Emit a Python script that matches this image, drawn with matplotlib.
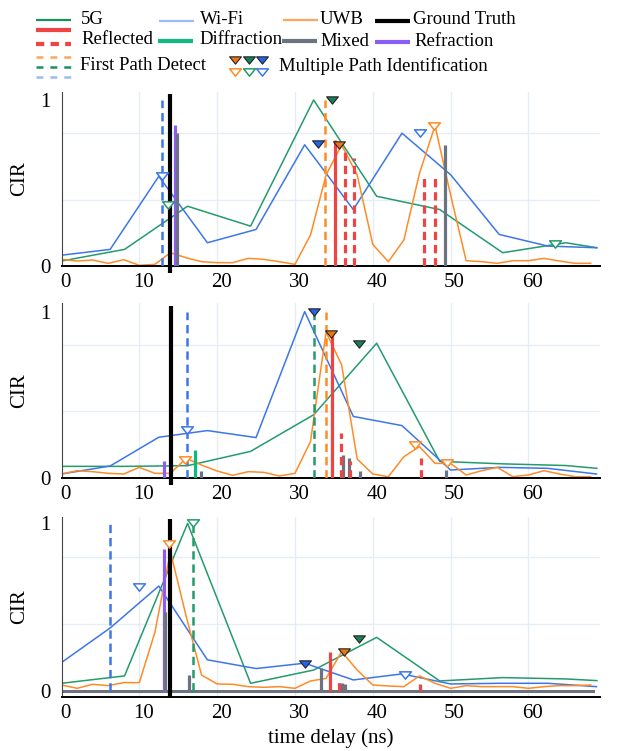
import matplotlib
matplotlib.use("Agg")
import matplotlib.pyplot as plt
from matplotlib.path import Path
from matplotlib.transforms import ScaledTranslation

plt.rcParams['font.family'] = ['Liberation Serif', 'DejaVu Serif']
plt.rcParams['lines.scale_dashes'] = False

# sample times (ns) of each radio
g5_t = [0, 8.1, 16.2, 24.3, 32.4, 40.5, 48.6, 56.7, 64.8, 68.8]
wifi_t = [0, 6.25, 12.5, 18.75, 25, 31.25, 37.5, 43.75, 50, 56.25, 62.5, 68.75]
uwb_t = [0, 2, 4, 6, 8, 10, 12, 14, 16, 18, 20, 22, 24, 26, 28, 30, 32, 34,
         36, 38, 40, 42, 44, 46, 48, 50, 52, 54, 56, 58, 60, 62, 64, 66, 68]

# ---- panel 1 ----
g5_1 = [0.03, 0.10, 0.36, 0.24, 1.0, 0.42, 0.34, 0.08, 0.14, 0.11]
wifi_1 = [0.065, 0.10, 0.54, 0.14, 0.22, 0.73, 0.34, 0.80, 0.55, 0.19, 0.12, 0.11]
uwb_1 = [0.040, 0.030, 0.036, 0.016, 0.038, 0.004, 0.010, 0.080, 0.050, 0.026,
         0.020, 0.020, 0.046, 0.040, 0.026, 0.010, 0.187, 0.548, 0.729, 0.548,
         0.130, 0.026, 0.157, 0.558, 0.845, 0.428, 0.032, 0.026, 0.016, 0.032,
         0.032, 0.046, 0.030, 0.016, 0.016]
refl_solid_1 = ([35.2], [0.76])
refl_dash_1 = ([36.4, 37.6, 46.6, 48.0], [0.70, 0.65, 0.55, 0.54])
diff_1 = ([], [])
refr_1 = ([14.6], [0.85])
mixed_1 = ([14.8, 49.3], [0.80, 0.73])
first_path_1 = {"wifi": 12.9, "uwb": 33.9}
mpi_filled_1 = {"uwb": ([35.7], [0.73]), "5g": ([34.8], [1.0]), "wifi": ([33.0], [0.733])}
mpi_hollow_1 = {"uwb": ([47.9], [0.845]), "5g": ([13.7, 63.4], [0.37, 0.13]),
                "wifi": ([12.9, 46.1], [0.54, 0.80])}
gt_1 = 13.9

# ---- panel 2 ----
g5_2 = [0.07, 0.07, 0.074, 0.16, 0.38, 0.81, 0.10, 0.085, 0.075, 0.058]
wifi_2 = [0.024, 0.072, 0.245, 0.285, 0.243, 1.0, 0.37, 0.315, 0.048, 0.064, 0.058, 0.024]
uwb_2 = [0.024, 0.044, 0.038, 0.028, 0.024, 0.064, 0.028, 0.028, 0.118, 0.078,
         0.042, 0.016, 0.038, 0.034, 0.012, 0.028, 0.219, 0.877, 0.68, 0.114,
         0.024, 0.008, 0.128, 0.189, 0.088, 0.088, 0.018, 0.044, 0.064, 0.008,
         0.018, 0.044, 0.024, 0.008, 0.008]
refl_solid_2 = ([34.7], [0.86])
refl_dash_2 = ([35.9, 37.1, 46.2], [0.27, 0.10, 0.12])
diff_2 = ([17.1], [0.17])
refr_2 = ([13.2], [0.10])
mixed_2 = ([17.9, 36.2, 36.9, 38.3, 49.4], [0.04, 0.14, 0.12, 0.042, 0.048])
first_path_2 = {"wifi": 16.1, "5g": 32.5, "uwb": 34.0}
mpi_filled_2 = {"wifi": ([32.4], [1.0]), "uwb": ([34.6], [0.865]), "5g": ([38.2], [0.805])}
mpi_hollow_2 = {"wifi": ([16.1], [0.29]), "uwb": ([15.9, 45.4, 49.6], [0.11, 0.20, 0.09])}
gt_2 = 14.1

# ---- panel 3 ----
g5_3 = [0.046, 0.09, 1.0, 0.046, 0.125, 0.32, 0.06, 0.08, 0.072, 0.062]
wifi_3 = [0.17, 0.376, 0.626, 0.186, 0.134, 0.166, 0.066, 0.102, 0.042, 0.046, 0.046, 0.026]
uwb_3 = [0.036, 0.016, 0.040, 0.032, 0.050, 0.050, 0.35, 0.83, 0.45, 0.095,
         0.042, 0.040, 0.026, 0.022, 0.026, 0.016, 0.060, 0.075, 0.235, 0.125,
         0.036, 0.030, 0.026, 0.090, 0.046, 0.016, 0.032, 0.026, 0.026, 0.026,
         0.016, 0.026, 0.032, 0.032, 0.036]
refl_solid_3 = ([34.5], [0.23])
refl_dash_3 = ([35.7, 46.1], [0.066, 0.042])
diff_3 = ([], [])
refr_3 = ([13.2], [0.85])
mixed_3 = ([13.35, 16.4, 33.3, 36.0, 36.4], [0.47, 0.095, 0.135, 0.05, 0.04])
mixed_base_3 = [0, 68.3]
first_path_3 = {"wifi": 6.2, "5g": 16.9}
mpi_filled_3 = {"wifi": ([31.3], [0.16]), "uwb": ([36.3], [0.23]), "5g": ([38.2], [0.31])}
mpi_hollow_3 = {"wifi": ([9.9, 44.2], [0.62, 0.096]), "uwb": ([13.8], [0.88]),
                "5g": ([16.9], [1.0])}
gt_3 = 13.9

# colours
c_line = {"5g": "#239b6c", "wifi": "#3d76e8", "uwb": "#ff8b26"}
c_fill = {"5g": "#17805a", "wifi": "#2563eb", "uwb": "#ec7612"}
c_legend = {"5g": "#1b8f61", "wifi": "#9cbaf4", "uwb": "#fda65e"}
c_refl = "#ef4444"
c_diff = "#10b981"
c_mixed = "#6b7280"
c_refr = "#8b5cf6"
grid_c = "#e6edf7"

tri = Path([(-1, 0.62), (1, 0.62), (0, -0.62), (-1, 0.62)], closed=True)
dash = (0, (6, 3.5))

fig = plt.figure(figsize=(6.24, 7.51), dpi=100)
W, H = 624, 751


def draw_panel(ax, g5, wifi, uwb, refl_s, refl_d, diff, refr, mixed, fpd,
               mpi_f, mpi_h, gt, ylim, base=None):
    ax.set_xlim(0, 69.2)
    ax.set_ylim(*ylim)
    for gx in [10, 20, 30, 40, 50, 60]:
        ax.axvline(gx, color=grid_c, lw=1, zorder=0)
    for gy in [0.4, 0.8]:
        ax.axhline(gy, color=grid_c, lw=1, zorder=0)

    ax.plot(g5_t, g5, color=c_line["5g"], lw=1.1, zorder=2)
    ax.plot(wifi_t, wifi, color=c_line["wifi"], lw=1.1, zorder=2)
    ax.plot(uwb_t, uwb, color=c_line["uwb"], lw=1.1, zorder=2)
    if base is not None:
        ax.plot(base, [0, 0], color=c_mixed, lw=2.2, zorder=2)

    ax.vlines(refr[0], 0, refr[1], color=c_refr, lw=2.3, zorder=3)
    ax.vlines(mixed[0], 0, mixed[1], color=c_mixed, lw=2.3, zorder=3)
    ax.vlines(diff[0], 0, diff[1], color=c_diff, lw=2.3, zorder=3)
    ax.vlines(refl_s[0], 0, refl_s[1], color=c_refl, lw=2.3, zorder=3)
    ax.vlines(refl_d[0], 0, refl_d[1], color=c_refl, lw=2.3, linestyles=[dash], zorder=3)
    for k, t in fpd.items():
        ax.vlines(t, 0, 1.0, color=c_line[k], lw=1.8, linestyles=[dash], zorder=3)

    ax.vlines(gt, -0.04, ylim[1] - 0.015, color="black", lw=3, zorder=4, clip_on=False)

    for k, (xs, ys) in mpi_f.items():
        ax.plot(xs, ys, ls="none", marker=tri, ms=8.5, mfc=c_fill[k], mec="#222222",
                mew=0.8, zorder=5)
    for k, (xs, ys) in mpi_h.items():
        ax.plot(xs, ys, ls="none", marker=tri, ms=8.5, mfc="white", mec=c_line[k],
                mew=1.1, zorder=5)

    for s in ["top", "right"]:
        ax.spines[s].set_visible(False)
    ax.spines["left"].set_color("#444444")
    ax.spines["bottom"].set_color("black")
    ax.spines["bottom"].set_linewidth(1.4)
    ax.set_xticks([0, 10, 20, 30, 40, 50, 60])
    ax.set_yticks([0, 1])
    ax.set_yticklabels(["0", "1"])
    ax.tick_params(length=0, labelsize=15, pad=5)
    ax.tick_params(axis="y", pad=8)
    off = ScaledTranslation(4 / 100, 0, fig.dpi_scale_trans)
    for lab in ax.get_xticklabels():
        lab.set_transform(lab.get_transform() + off)
    ax.set_ylabel("CIR", fontsize=15, labelpad=8)


left = 61.5 / W
width = 538.5 / W
ax1 = fig.add_axes([left, (H - 266) / H, width, 174 / H])
ax2 = fig.add_axes([left, (H - 478) / H, width, 174.7 / H])
ax3 = fig.add_axes([left, (H - 696.7) / H, width, 180 / H])

draw_panel(ax1, g5_1, wifi_1, uwb_1, refl_solid_1, refl_dash_1, diff_1, refr_1, mixed_1,
           first_path_1, mpi_filled_1, mpi_hollow_1, gt_1, (0, 1.048))
draw_panel(ax2, g5_2, wifi_2, uwb_2, refl_solid_2, refl_dash_2, diff_2, refr_2, mixed_2,
           first_path_2, mpi_filled_2, mpi_hollow_2, gt_2, (0, 1.05))
draw_panel(ax3, g5_3, wifi_3, uwb_3, refl_solid_3, refl_dash_3, diff_3, refr_3, mixed_3,
           first_path_3, mpi_filled_3, mpi_hollow_3, gt_3, (-0.034, 1.04), base=mixed_base_3)
ax3.set_xlabel("time delay (ns)", fontsize=15, labelpad=4)

# legend drawn in pixel space
lg = fig.add_axes([0, 0, 1, 1])
lg.set_xlim(0, W)
lg.set_ylim(H, 0)
lg.axis("off")
lg.patch.set_alpha(0)
fs = 13.5


def leg_line(x0, y, color, lw, ls="-"):
    lg.plot([x0, x0 + 35], [y, y], color=color, lw=lw, ls=ls, solid_capstyle="butt")


def leg_text(x, y, s):
    lg.text(x, y, s, fontsize=fs, va="center", ha="left")


leg_line(36, 20, c_legend["5g"], 1.6)
leg_text(81, 19, "5G")
leg_line(159, 21, c_legend["wifi"], 1.6)
leg_text(200, 20, "Wi-Fi")
leg_line(283, 20, c_legend["uwb"], 1.6)
leg_text(320, 20, "UWB")
leg_line(375, 21, "black", 3)
leg_text(413, 20, "Ground Truth")

leg_line(36, 30, c_refl, 3)
leg_line(36, 44, c_refl, 3, ls=(0, (6, 4.5)))
leg_text(81, 39, "Reflected")
leg_line(158, 41, c_diff, 3)
leg_text(199, 40, "Diffraction")
leg_line(282, 41, c_mixed, 3)
leg_text(320, 41, "Mixed")
leg_line(375, 42, c_refr, 3)
leg_text(414, 42, "Refraction")

leg_line(36, 57, c_legend["uwb"], 1.8, ls=(0, (5, 5)))
leg_line(36, 67, c_legend["5g"], 1.8, ls=(0, (5, 5)))
leg_line(36, 77, c_legend["wifi"], 1.8, ls=(0, (5, 5)))
leg_text(80, 66, "First Path Detect")
for i, k in enumerate(["uwb", "5g", "wifi"]):
    lg.plot(235 + 13.5 * i, 60, marker=tri, ms=8.5, mfc=c_fill[k], mec="#222222", mew=0.8)
    lg.plot(235 + 13.5 * i, 72, marker=tri, ms=8.5, mfc="white", mec=c_line[k], mew=1.1)
leg_text(279, 66, "Multiple Path Identification")

fig.savefig("out.png", dpi=100)
